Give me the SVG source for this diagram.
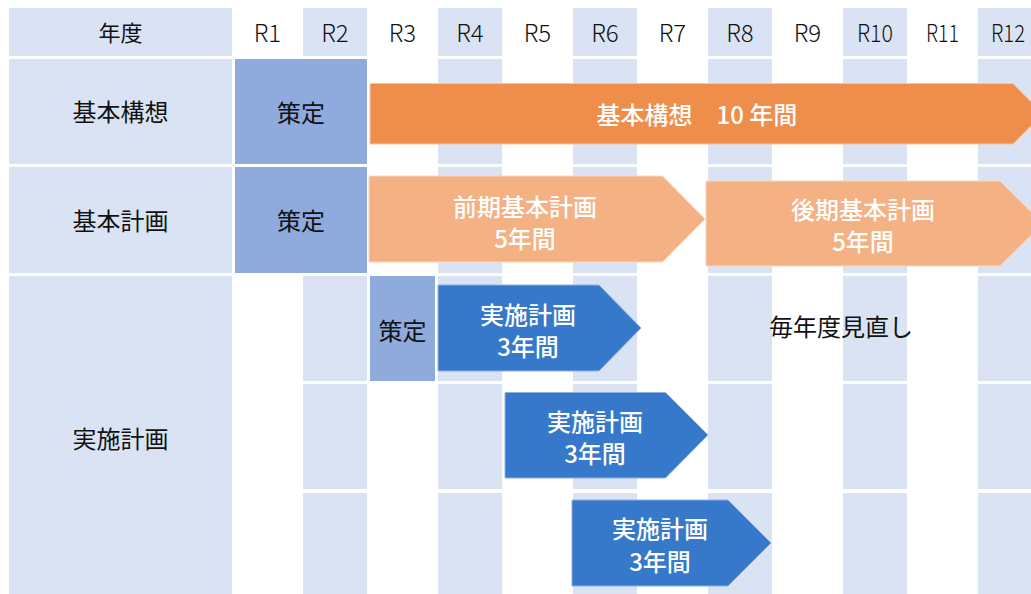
<svg xmlns="http://www.w3.org/2000/svg" width="1031" height="594" viewBox="0 0 1031 594">
<style>
.lt{fill:#DAE3F3}
.md{fill:#8FAADC}
.t{font-family:"Noto Sans CJK JP","Noto Sans",sans-serif;font-size:24px;fill:#111;text-anchor:middle;dominant-baseline:central}
.h{font-size:22px}
.r{font-size:24px;font-weight:300}
.w{fill:#fff;font-weight:500;font-size:24px}
.or{fill:#EF8D4B;stroke:#F6C4A2;stroke-width:1}
.lo{fill:#F4B183;stroke:#F9D6BE;stroke-width:1}
.bl{fill:#3678C9;stroke:#8DB0E0;stroke-width:1}
</style>
<rect width="1031" height="594" fill="#fff"/>
<g id="grid">
<rect class="lt" x="9" y="8" width="223" height="48"/>
<rect class="lt" x="9" y="59" width="223" height="105"/>
<rect class="lt" x="9" y="167" width="223" height="106"/>
<rect class="lt" x="9" y="276" width="223" height="318"/>
<g id="stripes">
<rect class="lt" x="303" y="8" width="64" height="48"/>
<rect class="lt" x="438" y="8" width="64" height="48"/>
<rect class="lt" x="573" y="8" width="64" height="48"/>
<rect class="lt" x="708" y="8" width="64" height="48"/>
<rect class="lt" x="843" y="8" width="64" height="48"/>
<rect class="lt" x="978" y="8" width="64" height="48"/>
<rect class="lt" x="438" y="59" width="64" height="105"/>
<rect class="lt" x="573" y="59" width="64" height="105"/>
<rect class="lt" x="708" y="59" width="64" height="105"/>
<rect class="lt" x="843" y="59" width="64" height="105"/>
<rect class="lt" x="978" y="59" width="64" height="105"/>
<rect class="lt" x="438" y="167" width="64" height="106"/>
<rect class="lt" x="573" y="167" width="64" height="106"/>
<rect class="lt" x="708" y="167" width="64" height="106"/>
<rect class="lt" x="843" y="167" width="64" height="106"/>
<rect class="lt" x="978" y="167" width="64" height="106"/>
<rect class="lt" x="303" y="276" width="64" height="105"/>
<rect class="lt" x="438" y="276" width="64" height="105"/>
<rect class="lt" x="573" y="276" width="64" height="105"/>
<rect class="lt" x="708" y="276" width="64" height="105"/>
<rect class="lt" x="843" y="276" width="64" height="105"/>
<rect class="lt" x="978" y="276" width="64" height="105"/>
<rect class="lt" x="303" y="384" width="64" height="105"/>
<rect class="lt" x="438" y="384" width="64" height="105"/>
<rect class="lt" x="573" y="384" width="64" height="105"/>
<rect class="lt" x="708" y="384" width="64" height="105"/>
<rect class="lt" x="843" y="384" width="64" height="105"/>
<rect class="lt" x="978" y="384" width="64" height="105"/>
<rect class="lt" x="303" y="493" width="64" height="101"/>
<rect class="lt" x="438" y="493" width="64" height="101"/>
<rect class="lt" x="573" y="493" width="64" height="101"/>
<rect class="lt" x="708" y="493" width="64" height="101"/>
<rect class="lt" x="843" y="493" width="64" height="101"/>
<rect class="lt" x="978" y="493" width="64" height="101"/>
</g>
</g>
<g id="headers">
<text class="t h" x="120.5" y="31">年度</text>
<text class="t r" x="267.5" y="31">R1</text>
<text class="t r" x="335" y="31">R2</text>
<text class="t r" x="402.5" y="31">R3</text>
<text class="t r" x="470" y="31">R4</text>
<text class="t r" x="537.5" y="31">R5</text>
<text class="t r" x="605" y="31">R6</text>
<text class="t r" x="672.5" y="31">R7</text>
<text class="t r" x="740" y="31">R8</text>
<text class="t r" x="807.5" y="31">R9</text>
<text class="t r" x="875" y="31" textLength="36" lengthAdjust="spacingAndGlyphs">R10</text>
<text class="t r" x="942.5" y="31" textLength="33" lengthAdjust="spacingAndGlyphs">R11</text>
<text class="t r" x="1008" y="31" textLength="34" lengthAdjust="spacingAndGlyphs">R12</text>
<text class="t" x="120.5" y="110">基本構想</text>
<text class="t" x="120.5" y="219">基本計画</text>
<text class="t" x="120.5" y="437">実施計画</text>
</g>
<g id="sakutei1"><rect class="md" x="235" y="59" width="132" height="105"/><text class="t" x="301" y="111">策定</text></g>
<g id="sakutei2"><rect class="md" x="235" y="167" width="132" height="106"/><text class="t" x="301" y="219">策定</text></g>
<g id="sakutei3"><rect class="md" x="370" y="276" width="65" height="105"/><text class="t" x="402.5" y="329">策定</text></g>
<g id="kihonkoso">
<polygon class="or" points="370,83.5 1013,83.5 1043,113.75 1013,144 370,144"/>
<text class="t w" x="697" y="113">基本構想　10 年間</text>
</g>
<g id="zenki">
<polygon class="lo" points="369,176 662.5,176 705,219 662.5,262 369,262"/>
<text class="t w" x="525" y="205">前期基本計画</text>
<text class="t w" x="525" y="237">5年間</text>
</g>
<g id="koki">
<polygon class="lo" points="706,181 1000,181 1043,223.5 1000,266 706,266"/>
<text class="t w" x="863" y="208">後期基本計画</text>
<text class="t w" x="863" y="240">5年間</text>
</g>
<g id="jisshi1">
<polygon class="bl" points="438,285 599,285 641,328 599,371 438,371"/>
<text class="t w" x="528" y="313">実施計画</text>
<text class="t w" x="528" y="345">3年間</text>
</g>
<g id="jisshi2">
<polygon class="bl" points="505,392.5 665.5,392.5 708,435 665.5,478 505,478"/>
<text class="t w" x="595" y="420">実施計画</text>
<text class="t w" x="595" y="452">3年間</text>
</g>
<g id="jisshi3">
<polygon class="bl" points="572,500 728,500 771,543 728,586 572,586"/>
<text class="t w" x="660" y="527">実施計画</text>
<text class="t w" x="660" y="560">3年間</text>
</g>
<g id="minaoshi"><text class="t" x="841" y="325">毎年度見直し</text></g>
<g id="connectors"/>
</svg>
